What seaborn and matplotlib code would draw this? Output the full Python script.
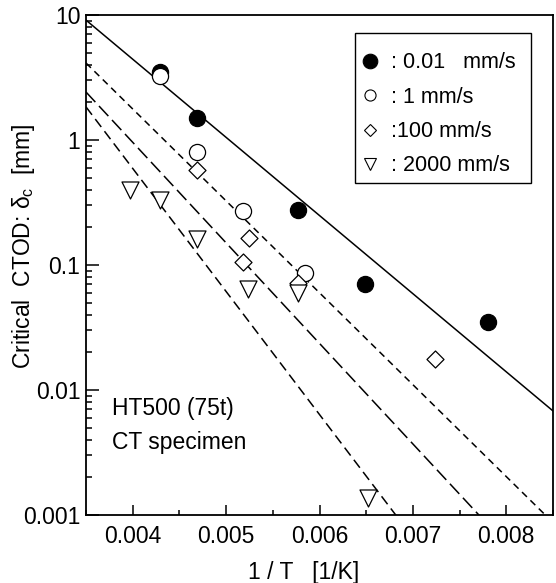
import numpy as np
import pandas as pd
import matplotlib
matplotlib.use("Agg")
import matplotlib.pyplot as plt
from matplotlib.lines import Line2D
from matplotlib.patches import Rectangle
from matplotlib.ticker import FixedLocator, FixedFormatter, NullFormatter, MultipleLocator
import seaborn as sns

# ---- data ----
circ_f_x = [0.00429, 0.00469, 0.00577, 0.00649, 0.00780]
circ_f_y = [3.5, 1.5, 0.275, 0.0705, 0.035]

circ_o_x = [0.00429, 0.00469, 0.00518, 0.00585]
circ_o_y = [3.25, 0.80, 0.27, 0.086]

diam_x = [0.00469, 0.00524, 0.00518, 0.00577, 0.00724]
diam_y = [0.575, 0.164, 0.105, 0.072, 0.0177]

tri_x = [0.00397, 0.00429, 0.00469, 0.00523, 0.00577, 0.00652]
tri_y = [0.40, 0.33, 0.16, 0.064, 0.060, 0.00137]

# regression lines (end points)
line_x = [0.0035, 0.0085]
line_001_y = [9.1, 0.0068]
line_1_y = [4.13, 0.00087]
line_100_y = [2.42, 0.00023]
line_2000_y = [1.84, 0.000022]

legend_labels = [": 0.01   mm/s", ": 1 mm/s", ":100 mm/s", ": 2000 mm/s"]
xticks = [0.004, 0.005, 0.006, 0.007, 0.008]
xtick_labels = ["0.004", "0.005", "0.006", "0.007", "0.008"]
yticks = [0.001, 0.01, 0.1, 1, 10]
ytick_labels = ["0.001", "0.01", "0.1", "1", "10"]

# ---- style ----
sns.set_style("ticks")
plt.rcParams["font.family"] = ["Liberation Sans", "DejaVu Sans"]
plt.rcParams["mathtext.fontset"] = "custom"
plt.rcParams["mathtext.rm"] = "Liberation Sans"
plt.rcParams["mathtext.it"] = "Liberation Sans"
plt.rcParams["text.color"] = "black"
plt.rcParams["axes.labelcolor"] = "black"
plt.rcParams["xtick.color"] = "black"
plt.rcParams["ytick.color"] = "black"

fig = plt.figure(figsize=(5.56, 5.83), dpi=100)
ax = fig.add_axes([86 / 556, 68 / 583, 467 / 556, 500 / 583])
ax.set_yscale("log")

lw = 1.1
sns.lineplot(x=line_x, y=line_001_y, ax=ax, color="k", lw=lw, linestyle="-", sort=False)
sns.lineplot(x=line_x, y=line_1_y, ax=ax, color="k", lw=lw, linestyle=(0, (4.5, 3.2)), sort=False)
sns.lineplot(x=line_x, y=line_100_y, ax=ax, color="k", lw=lw, linestyle=(0, (9, 3.5)), sort=False)
sns.lineplot(x=line_x, y=line_2000_y, ax=ax, color="k", lw=lw, linestyle=(0, (6.5, 3.5)), sort=False)

mew = 0.9
sns.scatterplot(x=circ_f_x, y=circ_f_y, ax=ax, marker="o", s=135, color="k",
                edgecolor="k", linewidth=mew, zorder=3)
sns.scatterplot(x=circ_o_x, y=circ_o_y, ax=ax, marker="o", s=135, facecolor="white",
                edgecolor="k", linewidth=mew, zorder=3)
sns.scatterplot(x=diam_x, y=diam_y, ax=ax, marker="D", s=75, facecolor="white",
                edgecolor="k", linewidth=mew, zorder=3)
sns.scatterplot(x=tri_x, y=tri_y, ax=ax, marker="v", s=150, facecolor="white",
                edgecolor="k", linewidth=mew, zorder=3)

ax.set_xlim(0.0035, 0.0085)
ax.set_ylim(0.001, 10)

ax.xaxis.set_major_locator(FixedLocator(xticks))
ax.xaxis.set_major_formatter(FixedFormatter(xtick_labels))
ax.xaxis.set_minor_locator(MultipleLocator(0.0005))
ax.yaxis.set_major_locator(FixedLocator(yticks))
ax.yaxis.set_major_formatter(FixedFormatter(ytick_labels))
ax.yaxis.set_minor_formatter(NullFormatter())

ax.tick_params(axis="both", which="both", direction="in", colors="k", labelsize=16.5,
               width=1.1, top=False, right=False)
ax.tick_params(axis="x", which="major", length=7, pad=7)
ax.tick_params(axis="x", which="minor", length=3.5)
ax.tick_params(axis="y", which="major", length=9, pad=4)
ax.tick_params(axis="y", which="minor", length=4.5)

for sp in ax.spines.values():
    sp.set_visible(True)
    sp.set_linewidth(1.3)
    sp.set_color("k")

ax.set_xlabel("1 / T   [1/K]", fontsize=16.5)
ax.set_ylabel("Critical  CTOD: $\\delta_\\mathrm{c}$  [mm]", fontsize=16.5)
ax.xaxis.set_label_coords(0.466, -0.114)
ax.yaxis.set_label_coords(-0.133, 0.538)
ax.xaxis.label.set_va("center")
ax.yaxis.label.set_va("center")

ax.text(0.056, 0.212, "HT500 (75t)", transform=ax.transAxes, fontsize=16.5, va="center")
ax.text(0.056, 0.146, "CT specimen", transform=ax.transAxes, fontsize=16.5, va="center")

# legend frame (drawn as a box in axes coordinates)
ax.add_patch(Rectangle((0.576, 0.664), 0.377, 0.300, transform=ax.transAxes,
                       facecolor="white", edgecolor="k", linewidth=1.0, zorder=4))

handles = [
    Line2D([], [], ls="none", marker="o", ms=10.5, mfc="k", mec="k", mew=0.8),
    Line2D([], [], ls="none", marker="o", ms=8, mfc="white", mec="k", mew=0.8),
    Line2D([], [], ls="none", marker="D", ms=6, mfc="white", mec="k", mew=0.8),
    Line2D([], [], ls="none", marker="v", ms=8.5, mfc="white", mec="k", mew=0.8),
]
leg = ax.legend(handles, legend_labels, loc="upper right", bbox_to_anchor=(0.962, 0.964),
                borderaxespad=0, fontsize=15.5, frameon=False,
                handlelength=0.7, handletextpad=0.65, labelspacing=0.62,
                borderpad=0.9)
leg.set_zorder(5)

fig.savefig("out.png", dpi=100)
